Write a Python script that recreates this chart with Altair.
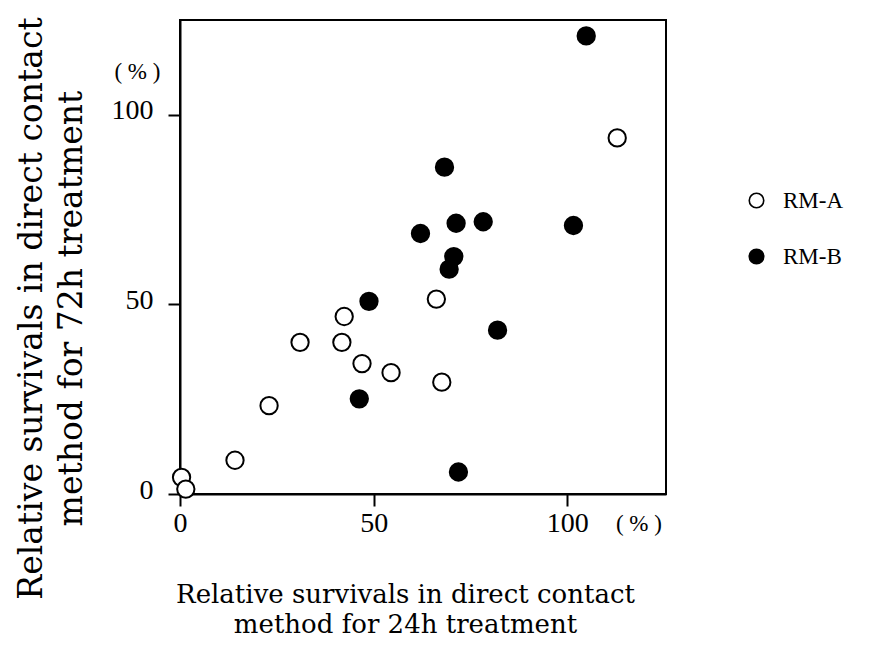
import altair as alt
import pandas as pd

# Relative survivals (%) for the two sample groups
rma_24h = [0.4, 1.5, 14.2, 23.0, 31.0, 41.8, 42.4, 47.0, 54.5, 66.2, 67.6, 112.9]
rma_72h = [4.4, 1.3, 8.9, 23.3, 40.0, 40.0, 46.8, 34.4, 32.0, 51.4, 29.5, 93.9]

rmb_24h = [104.9, 68.3, 71.3, 78.3, 62.1, 101.6, 70.7, 69.5, 48.8, 82.0, 46.3, 71.9]
rmb_72h = [120.8, 86.2, 71.4, 71.8, 68.7, 70.8, 62.6, 59.3, 50.8, 43.2, 25.1, 5.8]

groups = ["RM-A", "RM-B"]
x_ticks = [0, 50, 100]
y_ticks = [0, 50, 100]

# unit markers placed next to the axes, in data units
unit_text = ["( % )", "( % )"]
unit_x = [118.5, -11.0]
unit_y = [-7.9, 111.3]

x_title = ["Relative survivals in direct contact", "method for 24h treatment"]
y_title = ["Relative survivals in direct contact", "method for 72h treatment"]

serif = "Liberation Serif"
title_font = "DejaVu Serif"

points = pd.DataFrame({
    "h24": rma_24h + rmb_24h,
    "h72": rma_72h + rmb_72h,
    "group": [groups[0]] * len(rma_24h) + [groups[1]] * len(rmb_24h),
})
units = pd.DataFrame({"label": unit_text, "ux": unit_x, "uy": unit_y})

x_scale = alt.Scale(domain=[0, 125.5], nice=False, zero=False)
y_scale = alt.Scale(domain=[0, 125], nice=False, zero=False)

x_axis = alt.Axis(
    values=x_ticks, title=x_title, titleFont=title_font, titleFontSize=26,
    titleFontWeight="normal", titleLineHeight=30, titleBaseline="top",
    titleX=225, titleY=87, titleAlign="center", titleAnchor="middle",
    labelFont=serif, labelFontSize=28, labelPadding=3, labelFlush=False,
    tickSize=12, grid=False,
)
y_axis = alt.Axis(
    values=y_ticks, title=y_title, titleFont=title_font, titleFontSize=33,
    titleFontWeight="normal", titleLineHeight=40, titleBaseline="top",
    titleAngle=-90, titleX=-165, titleY=288, titleAlign="center",
    labelFont=serif, labelFontSize=28, labelPadding=15, labelOffset=-4,
    labelFlush=False, tickSize=12, grid=False,
)

scatter = alt.Chart(points).mark_circle(
    size=300, stroke="black", strokeWidth=2, opacity=1
).encode(
    x=alt.X("h24:Q", scale=x_scale, axis=x_axis),
    y=alt.Y("h72:Q", scale=y_scale, axis=y_axis),
    fill=alt.Fill("group:N", scale=alt.Scale(domain=groups, range=["white", "black"]),
                  legend=alt.Legend(
                      title=None, orient="none", legendX=565, legendY=169,
                      symbolType="circle", symbolSize=210, symbolStrokeColor="black",
                      symbolStrokeWidth=1.6, labelFont=serif, labelFontSize=23,
                      labelOffset=15, rowPadding=32,
                  )),
)

unit_labels = alt.Chart(units).mark_text(
    font=serif, fontSize=23, color="black"
).encode(
    x=alt.X("ux:Q", scale=x_scale, axis=x_axis),
    y=alt.Y("uy:Q", scale=y_scale, axis=y_axis),
    text="label:N",
)

chart = alt.layer(scatter, unit_labels).properties(
    width=486, height=474,
    background="white",
    autosize=alt.AutoSizeParams(type="none"),
    padding={"left": 180, "top": 20, "right": 203, "bottom": 167},
).configure_view(
    stroke="black", strokeWidth=2, fill="white"
).configure_axis(
    grid=False, domainColor="black", domainWidth=2, tickColor="black",
    tickWidth=2, labelColor="black", titleColor="black",
)

chart.save("out.html", embed_options={"renderer": "svg", "actions": False})
